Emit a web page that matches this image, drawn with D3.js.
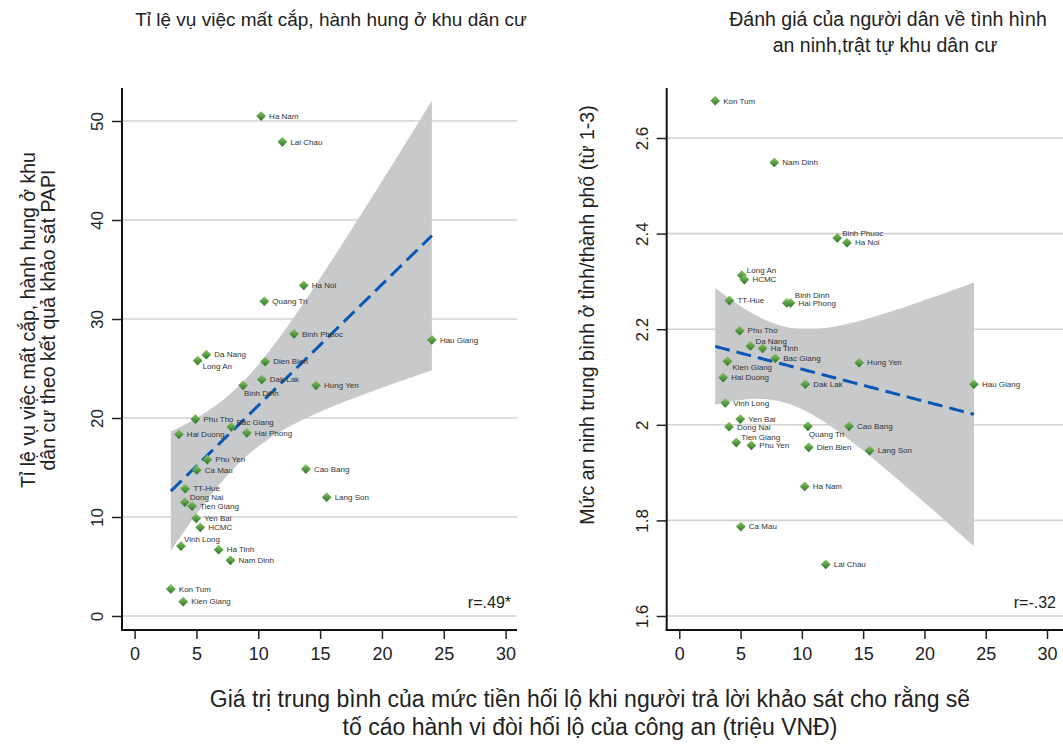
<!DOCTYPE html>
<html>
<head>
<meta charset="utf-8">
<script src="https://cdn.jsdelivr.net/npm/d3@7"></script>
<style>
  body { margin: 0; background: #fff; }
  text { font-family: "Liberation Sans", Arial, sans-serif; fill: #222; }
</style>
</head>
<body>
<svg id="chart" width="1063" height="746"></svg>
<script>
// provinces and their values
const provinces = ['Kon Tum', 'Kien Giang', 'Hai Duong', 'Vinh Long', 'Dong Nai', 'TT-Hue', 'Tien Giang',
  'Phu Tho', 'Yen Bai', 'Ca Mau', 'Long An', 'HCMC', 'Da Nang', 'Phu Yen', 'Ha Tinh', 'Nam Dinh',
  'Bac Giang', 'Binh Dinh', 'Hai Phong', 'Ha Nam', 'Dak Lak', 'Quang Tri', 'Dien Bien', 'Lai Chau',
  'Binh Phuoc', 'Ha Noi', 'Cao Bang', 'Hung Yen', 'Lang Son', 'Hau Giang'];

// x: mean bribe (million VND)
const bribe = [2.93, 3.93, 3.58, 3.75, 4.06, 4.09, 4.65,
  4.92, 4.98, 5.02, 5.10, 5.31, 5.80, 5.88, 6.80, 7.75,
  7.83, 8.77, 9.07, 10.23, 10.28, 10.49, 10.56, 11.95,
  12.89, 13.68, 13.85, 14.67, 15.53, 24.04];

// left panel y: theft / assault rate (%)
const theftRate = [2.73, 1.45, 18.35, 7.07, 11.5, 12.86, 11.1,
  19.9, 9.87, 14.75, 25.8, 8.96, 26.4, 15.8, 6.7, 5.63,
  19.1, 23.3, 18.5, 50.5, 23.9, 31.8, 25.7, 47.9,
  28.5, 33.4, 14.85, 23.3, 12.0, 27.9];

// right panel y: security score (1-3)
const securityScore = [2.678, 2.133, 2.099, 2.046, 1.996, 2.26, 1.963,
  2.197, 2.012, 1.787, 2.313, 2.304, 2.165, 1.957, 2.16, 2.549,
  2.139, 2.255, 2.255, 1.871, 2.085, 1.997, 1.953, 1.708,
  2.391, 2.381, 1.997, 2.13, 1.946, 2.085];

const bribeTicks = [0, 5, 10, 15, 20, 25, 30];
const theftTicks = [0, 10, 20, 30, 40, 50];
const securityTicks = [1.6, 1.8, 2, 2.2, 2.4, 2.6];

// marker label positions (default 'r' = right)
const labelPosLeft = { 'Long An': 'dr', 'Binh Dinh': 'b', 'Bac Giang': 'ur', 'Dong Nai': 'ur', 'Vinh Long': 'u' };
const labelPosRight = { 'Binh Phuoc': 'ur', 'Long An': 'ur', 'Binh Dinh': 'uu', 'Da Nang': 'ur', 'Kien Giang': 'dr',
  'Quang Tri': 'b', 'Tien Giang': 'ur' };

const svg = d3.select('#chart');

const defs = svg.append('defs');
const grad = defs.append('linearGradient')
  .attr('id', 'dgrad')
  .attr('x1', 0).attr('y1', 0).attr('x2', 1).attr('y2', 1);
grad.append('stop').attr('offset', '0%').attr('stop-color', '#8cc766');
grad.append('stop').attr('offset', '100%').attr('stop-color', '#2b7424');

const labelOffset = {
  r: [8, 0], ur: [5, -5], u: [3, -7], uu: [8, -8], dr: [5, 6], b: [1, 8]
};

// OLS fit with 95% CI of the mean prediction
const fitLine = (xs, ys) => {
  const n = xs.length;
  const mx = d3.mean(xs), my = d3.mean(ys);
  const sxx = d3.sum(xs, x => (x - mx) ** 2);
  const sxy = d3.sum(xs, (x, i) => (x - mx) * (ys[i] - my));
  const b = sxy / sxx, a = my - b * mx;
  const s = Math.sqrt(d3.sum(xs, (x, i) => (ys[i] - a - b * x) ** 2) / (n - 2));
  const t = 2.048;
  const [x0, x1] = d3.extent(xs);
  const band = d3.range(0, 121).map(k => {
    const x = x0 + (x1 - x0) * k / 120;
    const yh = a + b * x;
    const h = t * s * Math.sqrt(1 / n + (x - mx) ** 2 / sxx);
    return { x, y: yh, lo: yh - h, hi: yh + h };
  });
  return band;
};

const drawPanel = (cfg) => {
  const { x, y, ys, yTicks, yFormat, right, labelPos, rText } = cfg;
  const top = 88, bottom = 630;
  const left = x.range()[0] - 12.6;
  const g = svg.append('g');

  // gridlines
  g.append('g').selectAll('line')
    .data(yTicks)
    .enter().append('line')
    .attr('x1', left).attr('x2', right)
    .attr('y1', d => y(d)).attr('y2', d => y(d))
    .attr('stroke', '#d2d2d2').attr('stroke-width', 1.6);

  // CI band and fit
  const band = fitLine(bribe, ys);
  g.append('path')
    .datum(band)
    .attr('fill', '#c8c9cb')
    .attr('d', d3.area().x(d => x(d.x)).y0(d => y(d.lo)).y1(d => y(d.hi)));
  g.append('path')
    .datum(band)
    .attr('fill', 'none')
    .attr('stroke', '#0a58b5')
    .attr('stroke-width', 3)
    .attr('stroke-dasharray', '15,7')
    .attr('d', d3.line().x(d => x(d.x)).y(d => y(d.y)));

  // points
  const pts = g.append('g').selectAll('g')
    .data(provinces)
    .enter().append('g')
    .attr('transform', (d, i) => `translate(${x(bribe[i])},${y(ys[i])})`);
  pts.append('path')
    .attr('d', d3.symbol(d3.symbolSquare, 48))
    .attr('transform', 'rotate(45)')
    .attr('fill', 'url(#dgrad)');
  pts.append('text')
    .attr('x', d => labelOffset[labelPos[d] || 'r'][0])
    .attr('y', d => labelOffset[labelPos[d] || 'r'][1])
    .attr('dy', '0.35em')
    .attr('font-size', 8)
    .style('fill', '#333')
    .text(d => d);

  // axes
  const yAxis = g.append('g')
    .attr('transform', `translate(${left},0)`)
    .call(d3.axisLeft(y).tickValues(yTicks).tickSize(10).tickFormat(yFormat));
  yAxis.select('.domain').remove();
  yAxis.selectAll('line').attr('stroke', '#222').attr('stroke-width', 1.5);
  yAxis.selectAll('text')
    .attr('transform', 'rotate(-90)')
    .attr('x', 0).attr('y', -19).attr('dy', 0)
    .attr('text-anchor', 'middle')
    .attr('font-size', 17);

  const xAxis = g.append('g')
    .attr('transform', `translate(0,${bottom})`)
    .call(d3.axisBottom(x).tickValues(bribeTicks).tickSize(9));
  xAxis.select('.domain').remove();
  xAxis.selectAll('line').attr('stroke', '#222').attr('stroke-width', 1.5);
  xAxis.selectAll('text')
    .attr('y', 17).attr('dy', '0.71em')
    .attr('font-size', 18);

  g.append('line')
    .attr('x1', left).attr('x2', left).attr('y1', top).attr('y2', bottom + 1)
    .attr('stroke', '#111').attr('stroke-width', 2);
  g.append('line')
    .attr('x1', left - 1).attr('x2', right).attr('y1', bottom).attr('y2', bottom)
    .attr('stroke', '#111').attr('stroke-width', 2);

  g.append('text')
    .attr('x', cfg.rX).attr('y', 608)
    .attr('text-anchor', 'end')
    .attr('font-size', 16)
    .text(rText);
};

const xLeft = d3.scaleLinear().domain([0, 30]).range([134.6, 505.6]);
const yLeft = d3.scaleLinear().domain([0, 50]).range([616, 121]);
const xRight = d3.scaleLinear().domain([0, 30]).range([679.3, 1047]);
const yRight = d3.scaleLinear().domain([1.6, 2.6]).range([616, 138]);

drawPanel({ x: xLeft, y: yLeft, ys: theftRate, yTicks: theftTicks, yFormat: d3.format('d'),
  right: 517, labelPos: labelPosLeft, rText: 'r=.49*', rX: 511 });
drawPanel({ x: xRight, y: yRight, ys: securityScore, yTicks: securityTicks, yFormat: d => String(+d.toFixed(1)),
  right: 1063, labelPos: labelPosRight, rText: 'r=-.32', rX: 1056 });

// titles
svg.append('text')
  .attr('x', 331).attr('y', 26)
  .attr('text-anchor', 'middle').attr('font-size', 19)
  .text('Tỉ lệ vụ việc mất cắp, hành hung ở khu dân cư');
svg.append('text')
  .attr('x', 888).attr('y', 26)
  .attr('text-anchor', 'middle').attr('font-size', 19.5)
  .text('Đánh giá của người dân về tình hình');
svg.append('text')
  .attr('x', 885).attr('y', 52)
  .attr('text-anchor', 'middle').attr('font-size', 19.5)
  .text('an ninh,trật tự khu dân cư');

// y titles
svg.append('text')
  .attr('transform', 'translate(35,320) rotate(-90)')
  .attr('text-anchor', 'middle').attr('font-size', 19.5)
  .text('Tỉ lệ vụ việc mất cắp, hành hung ở khu');
svg.append('text')
  .attr('transform', 'translate(55,320) rotate(-90)')
  .attr('text-anchor', 'middle').attr('font-size', 19.5)
  .text('dân cư theo kết quả khảo sát PAPI');
svg.append('text')
  .attr('transform', 'translate(594,315) rotate(-90)')
  .attr('text-anchor', 'middle').attr('font-size', 19.5)
  .text('Mức an ninh trung bình ở tỉnh/thành phố (từ 1-3)');

// x title
svg.append('text')
  .attr('x', 590).attr('y', 707)
  .attr('text-anchor', 'middle').attr('font-size', 23)
  .text('Giá trị trung bình của mức tiền hối lộ khi người trả lời khảo sát cho rằng sẽ');
svg.append('text')
  .attr('x', 590).attr('y', 735)
  .attr('text-anchor', 'middle').attr('font-size', 23)
  .text('tố cáo hành vi đòi hối lộ của công an (triệu VNĐ)');
</script>
</body>
</html>
